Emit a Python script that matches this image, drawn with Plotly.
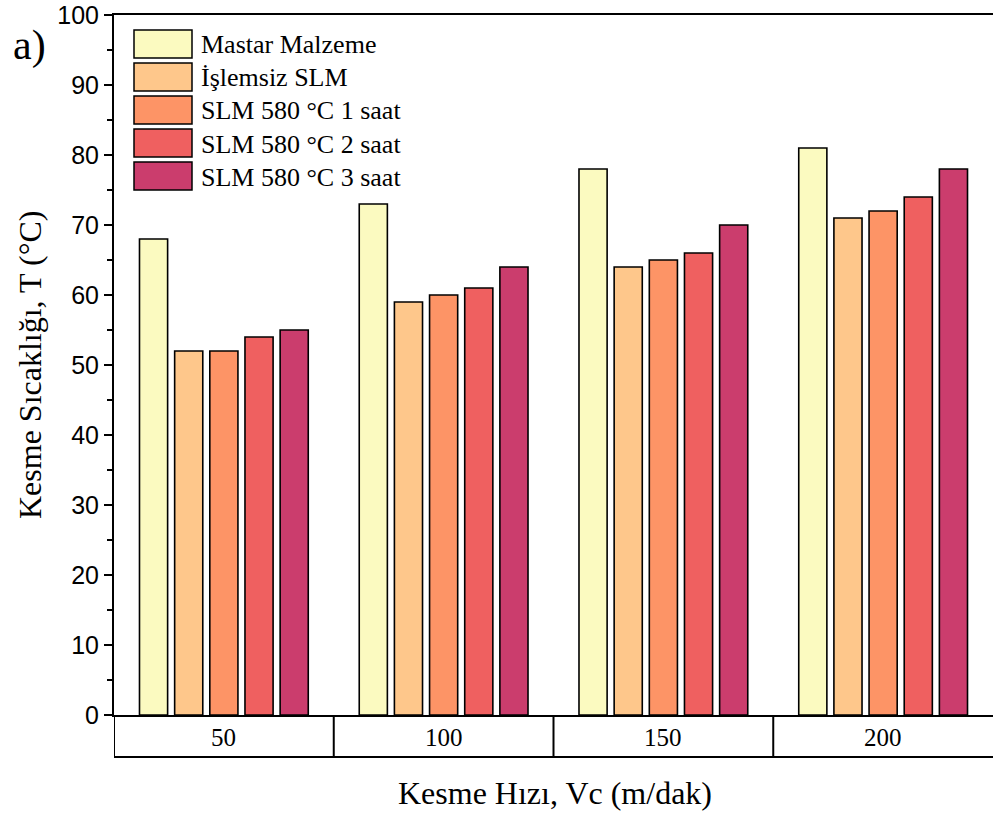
import plotly.graph_objects as go

categories = ["50", "100", "150", "200"]
series_names = ["Mastar Malzeme", "İşlemsiz SLM", "SLM 580 °C 1 saat",
                "SLM 580 °C 2 saat", "SLM 580 °C 3 saat"]
mastar = [68, 73, 78, 81]
islemsiz = [52, 59, 64, 71]
slm1 = [52, 60, 65, 72]
slm2 = [54, 61, 66, 74]
slm3 = [55, 64, 70, 78]
y_ticks = [0, 10, 20, 30, 40, 50, 60, 70, 80, 90, 100]

series_values = [mastar, islemsiz, slm1, slm2, slm3]
colors = ["#FBFAC0", "#FEC78B", "#FD9466", "#EF6060", "#CB3D6D"]

SERIF = "Liberation Serif, Times New Roman, serif"
SANS = "Liberation Sans, Arial, sans-serif"

W, H = 993, 814
# plot area in screen pixels
SL, ST, SR, SB = 114, 15, 993, 715
pl, pt = SL, ST
pw, ph = SR - SL, SB - ST


def px_x(sx):
    return (sx - SL) / pw


def px_y(sy):
    return 1 - (sy - ST) / ph


xpos = list(range(len(categories)))

fig = go.Figure()
for name, vals, col in zip(series_names, series_values, colors):
    fig.add_trace(go.Bar(x=xpos, y=vals, name=name,
                         marker=dict(color=col, line=dict(color="black", width=1.6)),
                         showlegend=False))

shapes = []
annotations = []
# category table below the axis
tb = px_y(757)
for b in [-0.5, 0.5, 1.5, 2.5]:
    shapes.append(dict(type="line", xref="x", yref="paper", x0=b, x1=b, y0=0, y1=tb,
                       line=dict(color="black", width=2)))
shapes.append(dict(type="line", xref="x", yref="paper", x0=-0.5, x1=3.5, y0=tb, y1=tb,
                   line=dict(color="black", width=2)))
for i, c in enumerate(categories):
    annotations.append(dict(x=i, y=px_y(737), xref="x", yref="paper", text=c, showarrow=False,
                            font=dict(family=SERIF, size=25, color="black"), yanchor="middle"))

# custom legend
tops = [30, 63, 96, 129, 162]
for yt, name, col in zip(tops, series_names, colors):
    yb = yt + 28
    shapes.append(dict(type="rect", xref="paper", yref="paper",
                       x0=px_x(134), x1=px_x(192), y0=px_y(yb), y1=px_y(yt),
                       fillcolor=col, line=dict(color="black", width=1.5)))
    annotations.append(dict(x=px_x(199), y=px_y((yt + yb) / 2 + 1), xref="paper", yref="paper",
                            text=name, showarrow=False, xanchor="left", yanchor="middle",
                            font=dict(family=SERIF, size=26, color="black")))

annotations.append(dict(x=px_x(29), y=px_y(46), xref="paper", yref="paper", text="a)",
                        showarrow=False, xanchor="center", yanchor="middle",
                        font=dict(family=SERIF, size=42, color="black")))
# axis titles
annotations.append(dict(x=px_x(555), y=px_y(793), xref="paper", yref="paper",
                        text="Kesme Hızı, Vc (m/dak)", showarrow=False,
                        xanchor="center", yanchor="middle",
                        font=dict(family=SERIF, size=32, color="black")))
annotations.append(dict(x=px_x(30), y=px_y(365), xref="paper", yref="paper",
                        text="Kesme Sıcaklığı, T (°C)", showarrow=False, textangle=-90,
                        xanchor="center", yanchor="middle",
                        font=dict(family=SERIF, size=32, color="black")))

fig.update_layout(
    width=W, height=H,
    margin=dict(l=pl, r=W - pl - pw, t=pt, b=H - pt - ph, autoexpand=False),
    paper_bgcolor="white", plot_bgcolor="white",
    barmode="group", bargap=0.2, bargroupgap=0.2,
    shapes=shapes, annotations=annotations,
    xaxis=dict(range=[-0.5, 3.5], showticklabels=False, ticks="", showgrid=False, zeroline=False,
               showline=True, mirror=True, linecolor="black", linewidth=2, automargin=False),
    yaxis=dict(range=[0, 100], tickvals=y_ticks, ticks="outside", ticklen=8, tickwidth=2,
               tickcolor="black", showgrid=False, zeroline=False, showline=True, linecolor="black",
               linewidth=2, tickfont=dict(family=SANS, size=25, color="black"), automargin=False,
               ticklabeloverflow="allow",
               minor=dict(dtick=5, ticks="outside", ticklen=5, tickwidth=2, tickcolor="black")),
)

fig.write_html("out.html", config={"displayModeBar": False},
               post_script="document.body.style.margin='0';document.body.style.overflow='hidden';")
